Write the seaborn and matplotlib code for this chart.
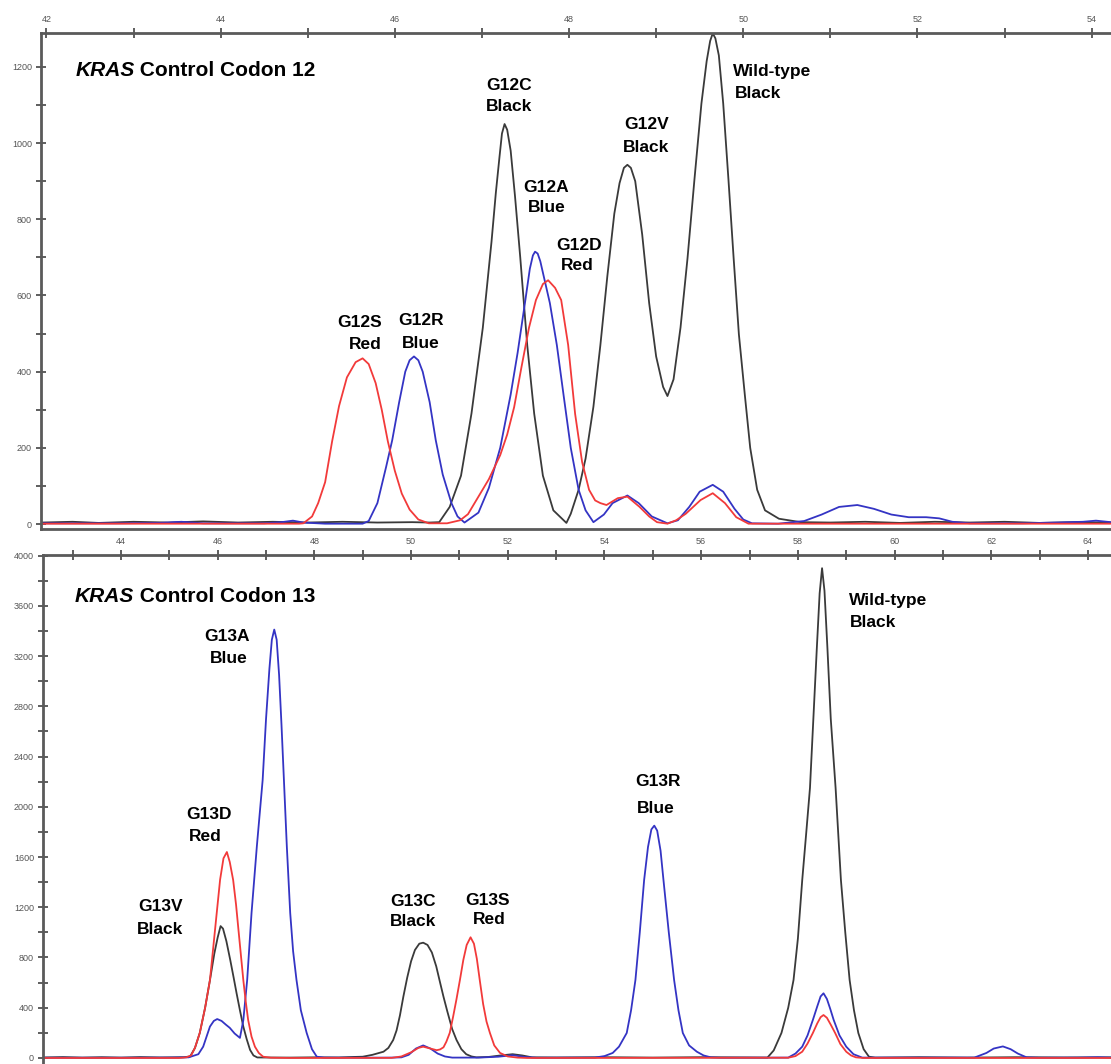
import numpy as np
import matplotlib
matplotlib.use("Agg")
import matplotlib.pyplot as plt
import seaborn as sns

# ---------------------------------------------------------------
# Codon 12 traces (size in bases vs. signal)
# ---------------------------------------------------------------
c12_black_x = [41.95, 42.3, 42.6, 43.0, 43.4, 43.8, 44.2, 44.6, 45.0, 45.4, 45.8, 46.2, 46.4,
               46.51, 46.63, 46.76, 46.88, 47.01, 47.11, 47.16, 47.20, 47.23, 47.26, 47.29,
               47.33, 47.38, 47.44, 47.52, 47.60, 47.70, 47.82, 47.97, 48.02, 48.11, 48.19,
               48.28, 48.36, 48.44, 48.52, 48.58, 48.63, 48.67, 48.71, 48.76, 48.84, 48.92,
               49.00, 49.08, 49.13, 49.20, 49.28, 49.36, 49.44, 49.52, 49.58, 49.62, 49.65,
               49.68, 49.72, 49.77, 49.83, 49.89, 49.95, 50.02, 50.08, 50.16, 50.25, 50.41,
               50.66, 51.0, 51.4, 51.8, 52.2, 52.6, 53.0, 53.4, 53.8, 54.22]
c12_black_y = [4, 6, 3, 6, 4, 7, 4, 6, 4, 6, 4, 5, 4,
               5, 45, 127, 290, 515, 741, 870, 960, 1025, 1050, 1035,
               980, 860, 700, 470, 290, 127, 36, 3, 27, 90, 172,
               308, 470, 651, 815, 895, 935, 943, 935, 900, 760, 580,
               440, 360, 336, 380, 516, 697, 905, 1104, 1215, 1268, 1288,
               1275, 1230, 1104, 905, 697, 498, 335, 200, 90, 36, 14,
               5, 4, 6, 3, 6, 4, 6, 3, 5, 4]

c12_blue_x = [41.95, 42.8, 43.3, 43.55, 43.8, 44.5, 44.7, 44.83, 44.95, 45.2, 45.63, 45.7,
              45.8, 45.9, 45.97, 46.05, 46.12, 46.17, 46.22, 46.27, 46.32, 46.4, 46.47,
              46.55, 46.65, 46.72, 46.8, 46.96, 47.08, 47.21, 47.33, 47.41, 47.50, 47.55,
              47.585, 47.61, 47.64, 47.67, 47.72, 47.78, 47.86, 47.94, 48.02, 48.11, 48.19,
              48.28, 48.4, 48.5, 48.67, 48.8, 48.95, 49.13, 49.25, 49.38, 49.5, 49.65,
              49.77, 49.9, 50.0, 50.1, 50.4, 50.7, 50.9, 51.1, 51.31, 51.5, 51.7, 51.9,
              52.1, 52.25, 52.4, 52.6, 53.2, 53.6, 53.9, 54.05, 54.22]
c12_blue_y = [2, 2, 3, 6, 2, 2, 5, 9, 4, 1, 1, 8,
              55, 150, 220, 320, 400, 430, 440, 430, 400, 320, 220,
              130, 55, 20, 4, 30, 95, 200, 340, 450, 590, 670,
              705, 715, 710, 690, 640, 580, 470, 334, 200, 90, 36,
              5, 25, 55, 75, 55, 20, 2, 10, 45, 85, 103,
              85, 40, 12, 2, 1, 8, 25, 45, 50, 40, 25, 18,
              18, 15, 6, 2, 2, 4, 6, 9, 5]

c12_red_x = [41.95, 44.9, 44.95, 45.05, 45.12, 45.2, 45.28, 45.36, 45.45, 45.55, 45.63, 45.7,
             45.78, 45.85, 45.92, 46.0, 46.08, 46.17, 46.27, 46.39, 46.6, 46.75, 46.84, 46.96,
             47.08, 47.21, 47.29, 47.37, 47.45, 47.54, 47.62, 47.70, 47.76, 47.84, 47.91,
             47.99, 48.07, 48.15, 48.23, 48.30, 48.36, 48.43, 48.56, 48.67, 48.81, 48.92,
             49.01, 49.13, 49.23, 49.34, 49.51, 49.65, 49.79, 49.92, 50.06, 54.22]
c12_red_y = [1, 1, 2, 20, 55, 110, 217, 310, 385, 425, 435, 420,
             370, 300, 217, 140, 80, 38, 12, 2, 2, 10, 26, 72,
             118, 181, 235, 307, 407, 515, 588, 630, 640, 620, 588,
             470, 289, 163, 90, 62, 55, 50, 68, 72, 45, 20,
             5, 1, 10, 27, 63, 81, 55, 18, 1, 1]

# ---------------------------------------------------------------
# Codon 13 traces
# ---------------------------------------------------------------
c13_black_x = [42.39, 42.8, 43.2, 43.6, 44.0, 44.4, 44.8, 45.1, 45.3, 45.43, 45.53, 45.63,
               45.74, 45.84, 45.93, 46.0, 46.06, 46.11, 46.18, 46.26, 46.33, 46.39, 46.46,
               46.53, 46.6, 46.67, 46.74, 46.82, 47.5, 48.0, 48.5, 48.8, 49.0, 49.2, 49.43,
               49.53, 49.63, 49.7, 49.77, 49.84, 49.92, 50.0, 50.08, 50.17, 50.25, 50.34,
               50.43, 50.52, 50.6, 50.67, 50.75, 50.85, 50.94, 51.04, 51.14, 51.25, 51.35,
               51.6, 51.85, 52.1, 52.3, 52.5, 53.0, 54.0, 55.0, 56.0, 57.0, 57.37, 57.5,
               57.66, 57.8, 57.91, 58.0, 58.09, 58.17, 58.25, 58.32, 58.39, 58.45, 58.5,
               58.55, 58.61, 58.68, 58.78, 58.84, 58.89, 58.98, 59.07, 59.16, 59.25, 59.36,
               59.47, 59.6, 60.5, 61.5, 62.5, 63.5, 64.48]
c13_black_y = [4, 7, 3, 6, 3, 7, 4, 5, 6, 12, 80, 200,
               400, 620, 830, 960, 1050, 1030, 930, 780, 640, 517, 380,
               250, 150, 64, 20, 4, 3, 5, 4, 8, 10, 25, 50,
               80, 143, 220, 340, 488, 640, 770, 860, 910, 918, 900,
               840, 730, 600, 488, 370, 230, 143, 70, 30, 12, 5,
               8, 20, 30, 20, 5, 4, 6, 3, 6, 4, 3, 60,
               199, 400, 621, 950, 1417, 1780, 2150, 2700, 3250, 3700, 3900,
               3720, 3270, 2700, 2150, 1750, 1417, 1000, 621, 380, 199, 70,
               10, 3, 6, 3, 6, 4, 5]

c13_blue_x = [42.39, 44.0, 45.0, 45.4, 45.6, 45.7, 45.77, 45.84, 45.92, 45.99, 46.08, 46.17,
              46.25, 46.35, 46.46, 46.53, 46.61, 46.70, 46.81, 46.93, 47.0, 47.07, 47.12,
              47.17, 47.22, 47.27, 47.32, 47.37, 47.43, 47.5, 47.56, 47.63, 47.72, 47.84,
              47.95, 48.05, 48.2, 49.0, 49.6, 49.8, 49.95, 50.1, 50.25, 50.4, 50.55, 50.7,
              50.85, 51.4, 51.8, 52.1, 52.35, 52.6, 53.8, 54.0, 54.17, 54.3, 54.46, 54.55,
              54.64, 54.73, 54.82, 54.9, 54.97, 55.03, 55.09, 55.16, 55.22, 55.33, 55.44,
              55.53, 55.62, 55.75, 55.91, 56.05, 56.2, 56.4, 57.8, 57.95, 58.09, 58.2, 58.31,
              58.4, 58.47, 58.53, 58.6, 58.67, 58.74, 58.86, 59.0, 59.15, 59.33, 61.65, 61.9,
              62.05, 62.24, 62.4, 62.55, 62.73, 63.0, 63.8, 64.2, 64.48]
c13_blue_y = [2, 2, 3, 5, 30, 90, 170, 250, 295, 310, 295, 265,
              240, 195, 160, 300, 621, 1154, 1685, 2213, 2700, 3100, 3330,
              3411, 3330, 3050, 2650, 2213, 1685, 1154, 850, 621, 380, 200,
              70, 10, 3, 2, 3, 5, 25, 75, 100, 75, 35, 12,
              3, 3, 10, 22, 8, 2, 3, 15, 40, 90, 199, 380,
              621, 1000, 1417, 1680, 1820, 1850, 1810, 1650, 1417, 1000, 621,
              380, 199, 100, 50, 20, 5, 2, 3, 35, 90, 180, 303,
              410, 490, 515, 470, 390, 303, 180, 90, 30, 3, 3, 40,
              75, 92, 70, 35, 5, 2, 3, 6, 3]

c13_red_x = [42.39, 45.2, 45.35, 45.45, 45.53, 45.63, 45.74, 45.84, 45.91, 45.98, 46.05, 46.12,
             46.19, 46.25, 46.32, 46.38, 46.43, 46.48, 46.53, 46.58, 46.63, 46.7, 46.77,
             46.85, 46.94, 47.1, 47.5, 49.6, 49.8, 50.0, 50.15, 50.25, 50.4, 50.53, 50.6,
             50.67, 50.73, 50.8, 50.87, 50.94, 51.01, 51.08, 51.15, 51.23, 51.3, 51.36,
             51.42, 51.49, 51.56, 51.63, 51.72, 51.84, 52.0, 52.2, 52.4, 57.8, 57.95, 58.09,
             58.2, 58.31, 58.4, 58.47, 58.53, 58.6, 58.68, 58.77, 58.88, 59.0, 59.1, 59.2,
             59.35, 64.48]
c13_red_y = [0, 0, 5, 20, 80, 200, 400, 620, 886, 1154, 1420, 1590,
             1640, 1560, 1417, 1220, 1019, 820, 621, 450, 303, 170, 90,
             40, 10, 2, 0, 1, 12, 45, 80, 90, 75, 62, 68,
             85, 130, 200, 330, 470, 621, 780, 900, 961, 910, 790,
             621, 430, 290, 200, 100, 40, 12, 3, 0, 2, 15, 50,
             115, 199, 275, 325, 342, 320, 265, 199, 110, 50, 20, 5,
             0, 0]

# peak labels: (line text, x, y, alignment)
c12_labels = [("G12S", 45.60, 530, "center"), ("Red", 45.66, 472, "center"),
              ("G12R", 46.30, 535, "center"), ("Blue", 46.30, 475, "center"),
              ("G12C", 47.31, 1150, "center"), ("Black", 47.31, 1095, "center"),
              ("G12A", 47.74, 884, "center"), ("Blue", 47.74, 830, "center"),
              ("G12D", 48.11, 730, "center"), ("Red", 48.09, 680, "center"),
              ("G12V", 48.89, 1049, "center"), ("Black", 48.88, 989, "center"),
              ("Wild-type", 49.88, 1189, "left"), ("Black", 49.90, 1129, "left")]
c13_labels = [("G13A", 46.19, 3355, "center"), ("Blue", 46.23, 3180, "center"),
              ("G13D", 45.82, 1937, "center"), ("Red", 45.74, 1763, "center"),
              ("G13V", 44.81, 1210, "center"), ("Black", 44.81, 1019, "center"),
              ("G13C", 50.04, 1244, "center"), ("Black", 50.04, 1085, "center"),
              ("G13S", 51.59, 1250, "center"), ("Red", 51.61, 1099, "center"),
              ("G13R", 55.11, 2205, "center"), ("Blue", 55.07, 1990, "center"),
              ("Wild-type", 59.06, 3646, "left"), ("Black", 59.08, 3471, "left")]

BLACK = "#3a3a3a"
BLUE = "#3434c4"
RED = "#f23a3a"
SPINE = "#5a5a5a"
FONT = ["Liberation Sans", "DejaVu Sans"]


def configure_style():
    """Plain white theme, Arial-like font"""
    sns.set_theme(style="white")
    plt.rcParams["font.family"] = FONT


def draw_traces(ax, traces):
    """Draws the three dye traces of one panel"""
    for xs, ys, color in traces:
        sns.lineplot(x=xs, y=ys, ax=ax, color=color, linewidth=1.3,
                     sort=False, estimator=None, legend=False)


def style_axis(ax, xlim, ylim, xmajor, ymajor, show_bottom):
    """Ticks on top and left, crossing the spines like the instrument software"""
    ax.xaxis.tick_top()
    first = np.ceil(xlim[0] / xmajor) * xmajor
    minor = np.arange(first - xmajor / 2, xlim[1], xmajor)
    ax.set_xticks(np.arange(first, xlim[1], xmajor))
    ax.set_xticks(minor[minor >= xlim[0]], minor=True)
    ax.set_yticks(np.arange(0, ylim[1], ymajor))
    ax.set_yticks(np.arange(ymajor / 2, ylim[1], ymajor), minor=True)
    ax.set_xticklabels([f"{v:g}" for v in ax.get_xticks()])
    ax.set_yticklabels([f"{v:g}" for v in ax.get_yticks()])
    # limits last, set_ticks can widen them
    ax.set_xlim(*xlim)
    ax.set_ylim(*ylim)
    ax.tick_params(axis="both", which="both", direction="inout", length=7, width=1.1,
                   color="#333333", labelcolor="#555555", labelsize=6.5)
    ax.tick_params(axis="x", which="both", top=True, bottom=False, pad=3)
    ax.tick_params(axis="y", which="both", left=True, right=False, pad=3)
    ax.set_xlabel("")
    ax.set_ylabel("")
    for name, spine in ax.spines.items():
        spine.set_color(SPINE)
        spine.set_linewidth(2.0)
    ax.spines["right"].set_visible(False)
    ax.spines["bottom"].set_visible(show_bottom)


def add_title(ax, x, y, rest):
    """'KRAS' in italics followed by the rest of the title"""
    t = ax.text(x, y, "KRAS", fontsize=15, fontweight="bold", fontstyle="italic",
                ha="left", va="center", color="black", family=FONT)
    ax.annotate(rest, xy=(1, 0), xycoords=t, ha="left", va="bottom", fontsize=15,
                fontweight="bold", color="black", family=FONT)


def add_labels(ax, labels):
    for text, x, y, ha in labels:
        ax.text(x, y, text, fontsize=12.5, fontweight="bold", ha=ha, va="center",
                color="black", family=FONT)


def main():
    configure_style()
    fig = plt.figure(figsize=(11.11, 10.64), dpi=100)

    ax_top = fig.add_axes([0.0369, 0.5028, 0.9631, 0.4662])
    draw_traces(ax_top, [(c12_black_x, c12_black_y, BLACK),
                         (c12_blue_x, c12_blue_y, BLUE),
                         (c12_red_x, c12_red_y, RED)])
    style_axis(ax_top, (41.938, 54.222), (-13, 1289), 2, 200, True)
    add_title(ax_top, 42.33, 1190, " Control Codon 12")
    add_labels(ax_top, c12_labels)

    ax_bot = fig.add_axes([0.0387, 0.0, 0.9613, 0.4784])
    draw_traces(ax_bot, [(c13_black_x, c13_black_y, BLACK),
                         (c13_blue_x, c13_blue_y, BLUE),
                         (c13_red_x, c13_red_y, RED)])
    style_axis(ax_bot, (42.387, 64.476), (-48, 4005), 2, 400, False)
    add_title(ax_bot, 43.05, 3673, " Control Codon 13")
    add_labels(ax_bot, c13_labels)

    fig.savefig("out.png", dpi=100)


if __name__ == "__main__":
    main()
